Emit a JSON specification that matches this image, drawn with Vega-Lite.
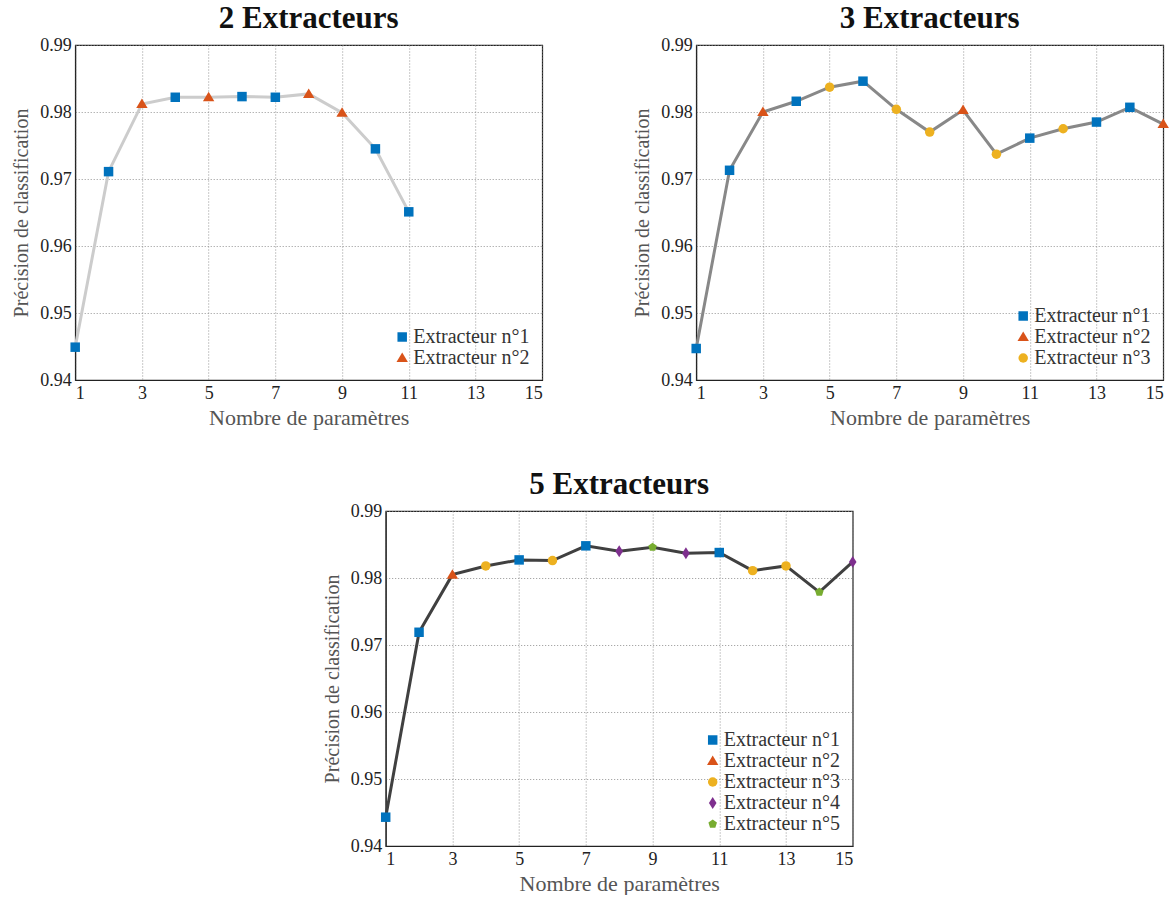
{
  "$schema": "https://vega.github.io/schema/vega-lite/v6.json",
  "padding": {"left": 11, "top": 2, "right": 0, "bottom": 0},
  "background": "white",
  "config": {
    "font": "Liberation Serif",
    "view": {"stroke": "#222", "strokeWidth": 1.2},
    "axis": {
      "grid": true, "gridDash": [1, 2], "gridColor": "#888", "gridOpacity": 0.9,
      "labelFont": "Liberation Serif", "labelFontSize": 18, "labelColor": "#222",
      "titleFont": "Liberation Serif", "titleFontSize": 20, "titleFontWeight": "normal", "titleColor": "#555",
      "domainColor": "#222", "tickColor": "#222", "ticks": false, "labelPadding": 4
    },
    "axisX": {"titlePadding": 5, "titleFontSize": 22},
    "axisY": {"titlePadding": 8},
    "title": {"font": "Liberation Serif", "fontSize": 31, "fontWeight": "bold", "color": "#111", "offset": 1, "frame": "group"},
    "legend": {
      "orient": "bottom-right", "offset": 12, "title": null, "labelFont": "Liberation Serif",
      "labelFontSize": 20, "labelColor": "#333", "symbolSize": 90, "rowPadding": 1, "labelOffset": 1,
      "symbolOpacity": 1, "symbolStrokeWidth": 0
    }
  },
  "datasets": {
    "d2": [
      {"n": 1, "acc": 0.9449, "ext": "Extracteur n°1"},
      {"n": 2, "acc": 0.9711, "ext": "Extracteur n°1"},
      {"n": 3, "acc": 0.9812, "ext": "Extracteur n°2"},
      {"n": 4, "acc": 0.9822, "ext": "Extracteur n°1"},
      {"n": 5, "acc": 0.9822, "ext": "Extracteur n°2"},
      {"n": 6, "acc": 0.9823, "ext": "Extracteur n°1"},
      {"n": 7, "acc": 0.9822, "ext": "Extracteur n°1"},
      {"n": 8, "acc": 0.9827, "ext": "Extracteur n°2"},
      {"n": 9, "acc": 0.9799, "ext": "Extracteur n°2"},
      {"n": 10, "acc": 0.9745, "ext": "Extracteur n°1"},
      {"n": 11, "acc": 0.9651, "ext": "Extracteur n°1"}
    ],
    "d3": [
      {"n": 1, "acc": 0.9447, "ext": "Extracteur n°1"},
      {"n": 2, "acc": 0.9713, "ext": "Extracteur n°1"},
      {"n": 3, "acc": 0.9800, "ext": "Extracteur n°2"},
      {"n": 4, "acc": 0.9816, "ext": "Extracteur n°1"},
      {"n": 5, "acc": 0.9837, "ext": "Extracteur n°3"},
      {"n": 6, "acc": 0.9846, "ext": "Extracteur n°1"},
      {"n": 7, "acc": 0.9804, "ext": "Extracteur n°3"},
      {"n": 8, "acc": 0.9770, "ext": "Extracteur n°3"},
      {"n": 9, "acc": 0.9803, "ext": "Extracteur n°2"},
      {"n": 10, "acc": 0.9737, "ext": "Extracteur n°3"},
      {"n": 11, "acc": 0.9761, "ext": "Extracteur n°1"},
      {"n": 12, "acc": 0.9775, "ext": "Extracteur n°3"},
      {"n": 13, "acc": 0.9785, "ext": "Extracteur n°1"},
      {"n": 14, "acc": 0.9807, "ext": "Extracteur n°1"},
      {"n": 15, "acc": 0.9782, "ext": "Extracteur n°2"}
    ],
    "d5": [
      {"n": 1, "acc": 0.9443, "ext": "Extracteur n°1"},
      {"n": 2, "acc": 0.9719, "ext": "Extracteur n°1"},
      {"n": 3, "acc": 0.9805, "ext": "Extracteur n°2"},
      {"n": 4, "acc": 0.9818, "ext": "Extracteur n°3"},
      {"n": 5, "acc": 0.9827, "ext": "Extracteur n°1"},
      {"n": 6, "acc": 0.9826, "ext": "Extracteur n°3"},
      {"n": 7, "acc": 0.9848, "ext": "Extracteur n°1"},
      {"n": 8, "acc": 0.9840, "ext": "Extracteur n°4"},
      {"n": 9, "acc": 0.9846, "ext": "Extracteur n°5"},
      {"n": 10, "acc": 0.9837, "ext": "Extracteur n°4"},
      {"n": 11, "acc": 0.9838, "ext": "Extracteur n°1"},
      {"n": 12, "acc": 0.9811, "ext": "Extracteur n°3"},
      {"n": 13, "acc": 0.9818, "ext": "Extracteur n°3"},
      {"n": 14, "acc": 0.9779, "ext": "Extracteur n°5"},
      {"n": 15, "acc": 0.9824, "ext": "Extracteur n°4"}
    ]
  },
  "vconcat": [
    {
      "hconcat": [
        {
          "title": "2 Extracteurs",
          "width": 467, "height": 335,
          "data": {"name": "d2"},
          "layer": [
            {
              "mark": {"type": "line", "color": "#cccccc", "strokeWidth": 3},
              "encoding": {
                "x": {"field": "n", "type": "quantitative", "title": "Nombre de paramètres", "scale": {"domain": [1, 15], "nice": false}, "axis": {"values": [1, 3, 5, 7, 9, 11, 13, 15]}},
                "y": {"field": "acc", "type": "quantitative", "title": "Précision de classification", "scale": {"domain": [0.94, 0.99], "nice": false, "zero": false}, "axis": {"values": [0.94, 0.95, 0.96, 0.97, 0.98, 0.99], "format": ".2f"}}
              }
            },
            {
              "mark": {"type": "point", "filled": true, "size": 90, "opacity": 1},
              "encoding": {
                "x": {"field": "n", "type": "quantitative"},
                "y": {"field": "acc", "type": "quantitative"},
                "color": {"field": "ext", "type": "nominal", "scale": {"domain": ["Extracteur n°1", "Extracteur n°2"], "range": ["#0072BD", "#D95319"]}},
                "shape": {"field": "ext", "type": "nominal", "scale": {"domain": ["Extracteur n°1", "Extracteur n°2"], "range": ["square", "M0,-1.15L1.2,0.85L-1.2,0.85Z"]}}
              }
            }
          ]
        },
        {
          "title": "3 Extracteurs",
          "width": 467, "height": 335,
          "data": {"name": "d3"},
          "layer": [
            {
              "mark": {"type": "line", "color": "#888888", "strokeWidth": 3},
              "encoding": {
                "x": {"field": "n", "type": "quantitative", "title": "Nombre de paramètres", "scale": {"domain": [1, 15], "nice": false}, "axis": {"values": [1, 3, 5, 7, 9, 11, 13, 15]}},
                "y": {"field": "acc", "type": "quantitative", "title": "Précision de classification", "scale": {"domain": [0.94, 0.99], "nice": false, "zero": false}, "axis": {"values": [0.94, 0.95, 0.96, 0.97, 0.98, 0.99], "format": ".2f"}}
              }
            },
            {
              "mark": {"type": "point", "filled": true, "size": 90, "opacity": 1},
              "encoding": {
                "x": {"field": "n", "type": "quantitative"},
                "y": {"field": "acc", "type": "quantitative"},
                "color": {"field": "ext", "type": "nominal", "scale": {"domain": ["Extracteur n°1", "Extracteur n°2", "Extracteur n°3"], "range": ["#0072BD", "#D95319", "#EDB120"]}},
                "shape": {"field": "ext", "type": "nominal", "scale": {"domain": ["Extracteur n°1", "Extracteur n°2", "Extracteur n°3"], "range": ["square", "M0,-1.15L1.2,0.85L-1.2,0.85Z", "circle"]}}
              }
            }
          ]
        }
      ],
      "spacing": 88,
      "resolve": {"scale": {"color": "independent", "shape": "independent"}}
    },
    {
      "title": "5 Extracteurs",
      "width": 467, "height": 335,
      "data": {"name": "d5"},
      "layer": [
        {
          "mark": {"type": "line", "color": "#404040", "strokeWidth": 3},
          "encoding": {
            "x": {"field": "n", "type": "quantitative", "title": "Nombre de paramètres", "scale": {"domain": [1, 15], "nice": false}, "axis": {"values": [1, 3, 5, 7, 9, 11, 13, 15]}},
            "y": {"field": "acc", "type": "quantitative", "title": "Précision de classification", "scale": {"domain": [0.94, 0.99], "nice": false, "zero": false}, "axis": {"values": [0.94, 0.95, 0.96, 0.97, 0.98, 0.99], "format": ".2f"}}
          }
        },
        {
          "mark": {"type": "point", "filled": true, "size": 90, "opacity": 1},
          "encoding": {
            "x": {"field": "n", "type": "quantitative"},
            "y": {"field": "acc", "type": "quantitative"},
            "color": {"field": "ext", "type": "nominal", "scale": {"domain": ["Extracteur n°1", "Extracteur n°2", "Extracteur n°3", "Extracteur n°4", "Extracteur n°5"], "range": ["#0072BD", "#D95319", "#EDB120", "#7E2F8E", "#77AC30"]}},
            "shape": {"field": "ext", "type": "nominal", "scale": {"domain": ["Extracteur n°1", "Extracteur n°2", "Extracteur n°3", "Extracteur n°4", "Extracteur n°5"], "range": ["square", "M0,-1.15L1.2,0.85L-1.2,0.85Z", "circle", "M0,-1.25L0.8,0L0,1.25L-0.8,0Z", "M0,-0.95L0.9,-0.29L0.56,0.77L-0.56,0.77L-0.9,-0.29Z"]}}
          }
        }
      ]
    }
  ],
  "spacing": 39,
  "center": true,
  "resolve": {"scale": {"color": "independent", "shape": "independent"}}
}
